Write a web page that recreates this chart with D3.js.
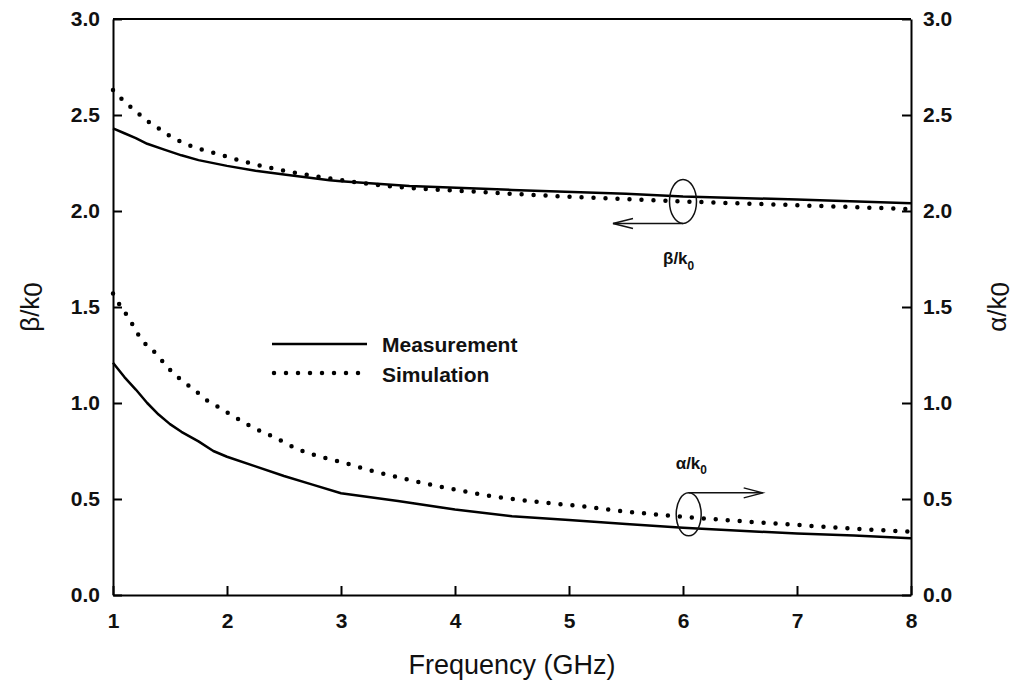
<!DOCTYPE html>
<html>
<head>
<meta charset="utf-8">
<script src="https://cdn.jsdelivr.net/npm/d3@7/dist/d3.min.js"></script>
<style>
  body { margin: 0; background: #fff; }
  svg { display: block; font-family: Arial, "Liberation Sans", sans-serif; }
  .axis path, .axis line { stroke: #000; stroke-width: 2; }
  .axis text { font-size: 21px; font-weight: bold; fill: #111; }
</style>
</head>
<body>
<svg id="chart" width="1018" height="691"></svg>
<script>
// frequency ticks (GHz) and value ticks shared by both y axes
var freqTicks = [1, 2, 3, 4, 5, 6, 7, 8];
var valueTicks = [0, 0.5, 1.0, 1.5, 2.0, 2.5, 3.0];

// beta/k0, measured
var betaMeasFreq = [1.0, 1.1, 1.2, 1.3, 1.45, 1.6, 1.75, 2.0, 2.25, 2.5, 2.9, 3.0, 3.6, 4.5, 5.5, 6.0, 7.0, 8.0];
var betaMeas     = [2.43, 2.405, 2.38, 2.35, 2.32, 2.29, 2.265, 2.235, 2.21, 2.19, 2.16, 2.155, 2.13, 2.11, 2.09, 2.075, 2.06, 2.04];

// beta/k0, simulated
var betaSimFreq = [1.0, 1.1, 1.2, 1.3, 1.4, 1.5, 1.6, 1.7, 1.9, 2.2, 2.5, 2.9, 3.5, 4.2, 4.8, 5.4, 6.0, 7.0, 8.0];
var betaSim     = [2.63, 2.57, 2.52, 2.47, 2.43, 2.39, 2.36, 2.335, 2.30, 2.25, 2.21, 2.17, 2.125, 2.10, 2.08, 2.065, 2.05, 2.03, 2.01];

// alpha/k0, measured
var alphaMeasFreq = [1.0, 1.1, 1.2, 1.3, 1.4, 1.5, 1.6, 1.75, 1.88, 2.0, 2.25, 2.5, 2.75, 3.0, 3.5, 4.0, 4.5, 5.0, 5.5, 6.0, 6.5, 7.0, 7.5, 8.0];
var alphaMeas     = [1.21, 1.135, 1.07, 1.0, 0.94, 0.89, 0.85, 0.80, 0.75, 0.72, 0.67, 0.62, 0.575, 0.53, 0.49, 0.445, 0.41, 0.39, 0.37, 0.35, 0.335, 0.32, 0.31, 0.295];

// alpha/k0, simulated
var alphaSimFreq = [1.0, 1.06, 1.13, 1.19, 1.25, 1.34, 1.43, 1.52, 1.62, 1.73, 1.82, 1.92, 2.03, 2.22, 2.42, 2.62, 2.82, 3.02, 3.22, 3.52, 3.93, 4.32, 4.72, 5.12, 5.42, 5.95, 6.5, 7.0, 7.5, 8.0];
var alphaSim     = [1.57, 1.51, 1.45, 1.39, 1.33, 1.28, 1.22, 1.16, 1.11, 1.06, 1.015, 0.98, 0.94, 0.875, 0.82, 0.76, 0.72, 0.69, 0.655, 0.61, 0.557, 0.515, 0.485, 0.462, 0.44, 0.41, 0.385, 0.365, 0.345, 0.33];

var legendLabels = ['Measurement', 'Simulation'];

var margin = {top: 19, right: 107, bottom: 96, left: 113};
var width = 1018 - margin.left - margin.right;
var height = 691 - margin.top - margin.bottom;

var svg = d3.select('#chart');
var g = svg.append('g').attr('transform', 'translate(' + margin.left + ',' + margin.top + ')');

var x = d3.scaleLinear().domain([1, 8]).range([0, width]);
var y = d3.scaleLinear().domain([0, 3]).range([height, 0]);

function zip(fs, vs) {
  return fs.map(function(f, i) { return {f: f, v: vs[i]}; });
}

var lineMeas = d3.line().x(function(d) { return x(d.f); }).y(function(d) { return y(d.v); });
var lineSim = d3.line().x(function(d) { return x(d.f); }).y(function(d) { return y(d.v); }).curve(d3.curveMonotoneX);

// axes, ticks point inward
var fmt = d3.format('.1f');
g.append('g').attr('class', 'axis')
  .attr('transform', 'translate(0,' + height + ')')
  .call(d3.axisBottom(x).tickValues(freqTicks).tickSizeInner(-9).tickSizeOuter(0).tickPadding(18).tickFormat(d3.format('d')));
g.append('g').attr('class', 'axis')
  .call(d3.axisLeft(y).tickValues(valueTicks).tickSizeInner(-9).tickSizeOuter(0).tickPadding(13).tickFormat(fmt));
g.append('g').attr('class', 'axis')
  .attr('transform', 'translate(' + width + ',0)')
  .call(d3.axisRight(y).tickValues(valueTicks).tickSizeInner(-9).tickSizeOuter(0).tickPadding(12).tickFormat(fmt));
// top border
g.append('line').attr('x1', 0).attr('x2', width).attr('y1', 0).attr('y2', 0)
  .attr('stroke', '#000').attr('stroke-width', 2);

// curves
var solidStyle = function(sel) {
  sel.attr('fill', 'none').attr('stroke', '#000').attr('stroke-width', 2.5).attr('stroke-linejoin', 'round');
};
var dotStyle = function(sel) {
  sel.attr('fill', 'none').attr('stroke', '#000').attr('stroke-width', 4.5)
    .attr('stroke-linecap', 'round').attr('stroke-dasharray', '0,12');
};

g.append('path').datum(zip(betaMeasFreq, betaMeas)).attr('d', lineMeas).call(solidStyle);
g.append('path').datum(zip(alphaMeasFreq, alphaMeas)).attr('d', lineMeas).call(solidStyle);
g.append('path').datum(zip(betaSimFreq, betaSim)).attr('d', lineSim).call(dotStyle);
g.append('path').datum(zip(alphaSimFreq, alphaSim)).attr('d', lineSim).call(dotStyle);

// legend
var leg = g.append('g').attr('transform', 'translate(159,325)');
leg.append('line').attr('x1', 0).attr('x2', 95).attr('y1', 0).attr('y2', 0).call(solidStyle);
leg.append('line').attr('x1', 2).attr('x2', 98).attr('y1', 29).attr('y2', 29).call(dotStyle);
leg.selectAll('text.leg').data(legendLabels).enter().append('text')
  .attr('class', 'leg')
  .attr('x', 110)
  .attr('y', function(d, i) { return 8 + i * 30; })
  .attr('font-size', '21px').attr('font-weight', 'bold').attr('fill', '#111')
  .text(function(d) { return d; });

// annotation: beta (points to left axis)
var bx = x(6), by = y(2.05);
var ann = g.append('g').attr('fill', 'none').attr('stroke', '#111').attr('stroke-width', 1.5);
ann.append('ellipse').attr('cx', bx).attr('cy', by).attr('rx', 13.5).attr('ry', 22);
ann.append('path').attr('d', 'M' + bx + ',' + (by + 22) + 'H' + (bx - 70));
ann.append('path').attr('d', 'M' + (bx - 50) + ',' + (by + 17) + 'L' + (bx - 70) + ',' + (by + 22) + 'L' + (bx - 50) + ',' + (by + 27));

// annotation: alpha (points to right axis)
var ax = x(6.05), ay = y(0.42);
ann.append('ellipse').attr('cx', ax).attr('cy', ay).attr('rx', 12.5).attr('ry', 21.5);
ann.append('path').attr('d', 'M' + ax + ',' + (ay - 21.5) + 'H' + (ax + 74));
ann.append('path').attr('d', 'M' + (ax + 55) + ',' + (ay - 26.5) + 'L' + (ax + 74) + ',' + (ay - 21.5) + 'L' + (ax + 55) + ',' + (ay - 16.5));

function subLabel(parent, px, py, main, size) {
  var t = parent.append('text').attr('x', px).attr('y', py)
    .attr('font-size', size + 'px').attr('fill', '#111');
  t.append('tspan').text(main);
  t.append('tspan').attr('dy', size * 0.3).attr('font-size', (size * 0.7) + 'px').text('0');
  return t;
}
subLabel(g, bx - 20, by + 63, 'β/k', 17).attr('font-weight', 'bold');
subLabel(g, ax - 13, ay - 45, 'α/k', 17).attr('font-weight', 'bold');

// axis titles
svg.append('text')
  .attr('transform', 'translate(' + 39 + ',' + 307 + ') rotate(-90)')
  .attr('text-anchor', 'middle').attr('font-size', '26px').attr('fill', '#111')
  .call(function(t) {
    t.append('tspan').text('β/k');
    t.append('tspan').attr('dy', 3).text('0');
  });
svg.append('text')
  .attr('transform', 'translate(' + 1006 + ',' + 307 + ') rotate(-90)')
  .attr('text-anchor', 'middle').attr('font-size', '26px').attr('fill', '#111')
  .call(function(t) {
    t.append('tspan').text('α/k');
    t.append('tspan').attr('dy', 3).text('0');
  });
svg.append('text')
  .attr('x', margin.left + width / 2).attr('y', 674)
  .attr('text-anchor', 'middle').attr('font-size', '27px').attr('fill', '#111')
  .text('Frequency (GHz)');
</script>
</body>
</html>
